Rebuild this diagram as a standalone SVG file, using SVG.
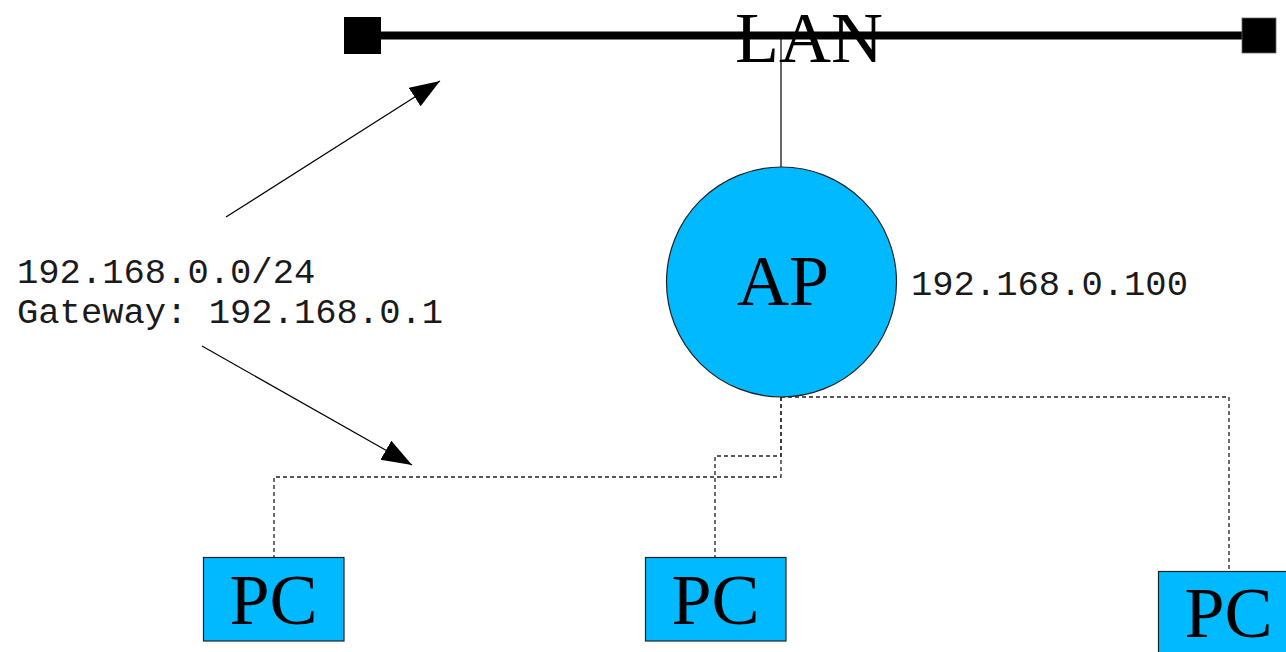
<svg xmlns="http://www.w3.org/2000/svg" width="1286" height="652" viewBox="0 0 1286 652">
  <style>
    .serif { font-family: "Liberation Serif", "Times New Roman", serif; font-size: 72px; fill: #000; }
    .mono { font-family: "Liberation Mono", "Courier New", monospace; font-size: 35.5px; fill: #1a1a1a; }
    .node { fill: #00b9ff; stroke: #222; stroke-width: 1.2; }
    .link { fill: none; stroke: #000; stroke-width: 1.2; }
    .dash { fill: none; stroke: #222; stroke-width: 1.3; stroke-dasharray: 4 3; }
  </style>
  <defs>
    <marker id="arrow" markerUnits="userSpaceOnUse" markerWidth="32" markerHeight="24" refX="30" refY="11" orient="auto">
      <path d="M0,0 L30,11 L0,22 Z" fill="#000"/>
    </marker>
  </defs>
  <rect width="1286" height="652" fill="#fff"/>

  <!-- connectors -->
  <g id="connectors">
    <line class="link" x1="781" y1="36" x2="781" y2="167"/>
    <line class="link" x1="226" y1="217" x2="440" y2="81" marker-end="url(#arrow)"/>
    <line class="link" x1="202" y1="346" x2="412" y2="465" marker-end="url(#arrow)"/>
    <path class="dash" d="M781,397 H1229 V571"/>
    <path class="dash" d="M781,397 V477 H274 V557"/>
    <path class="dash" d="M781,397 V456 H715 V557"/>
  </g>

  <!-- LAN bus -->
  <g id="lan">
    <line x1="376" y1="35.5" x2="1242" y2="35.5" stroke="#000" stroke-width="8"/>
    <rect x="344" y="17" width="37" height="37" fill="#000"/>
    <rect x="1242" y="18" width="34" height="35" fill="#000" stroke="#666" stroke-width="0.8"/>
    <text class="serif" x="809" y="62" text-anchor="middle">LAN</text>
  </g>

  <!-- access point -->
  <g id="ap">
    <circle class="node" cx="781.5" cy="282" r="115"/>
    <text class="serif" x="783" y="305" text-anchor="middle">AP</text>
  </g>

  <g id="ap-address">
    <text class="mono" x="911" y="295">192.168.0.100</text>
  </g>

  <g id="subnet-note">
    <text class="mono" x="17" y="283">192.168.0.0/24</text>
    <text class="mono" x="17" y="323">Gateway: 192.168.0.1</text>
  </g>

  <!-- clients -->
  <g id="pc1">
    <rect class="node" x="203.5" y="557.5" width="140.5" height="83.5"/>
    <text class="serif" x="273.5" y="624" text-anchor="middle">PC</text>
  </g>
  <g id="pc2">
    <rect class="node" x="645.5" y="557.5" width="140.5" height="83.5"/>
    <text class="serif" x="715.5" y="624" text-anchor="middle">PC</text>
  </g>
  <g id="pc3">
    <rect class="node" x="1158.5" y="571.5" width="140.5" height="83.5"/>
    <text class="serif" x="1228.5" y="637" text-anchor="middle">PC</text>
  </g>
</svg>
